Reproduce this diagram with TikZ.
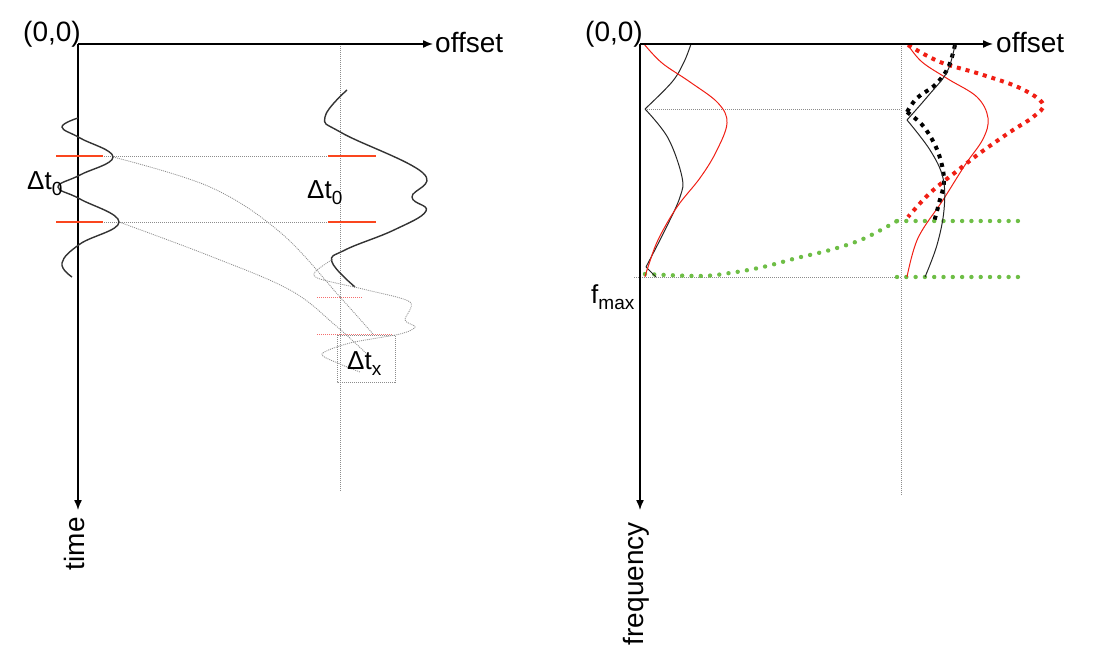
\documentclass[tikz,border=0pt]{standalone}
\usepackage{fontspec}
\setmainfont{Liberation Sans}
\usetikzlibrary{arrows.meta}
\definecolor{redL}{RGB}{250,70,30}
\definecolor{redR}{RGB}{240,30,20}
\definecolor{redlight}{RGB}{245,110,110}
\definecolor{grn}{RGB}{110,190,70}
\definecolor{guidegray}{RGB}{140,140,140}
\begin{document}
\begin{tikzpicture}[x=1pt,y=-1pt,
  axis/.style={line width=1.4pt,-{Latex[length=10pt,width=8pt]}},
  lbl/.style={inner sep=0pt,font=\fontsize{28}{30}\selectfont},
  dlbl/.style={inner sep=0pt,font=\fontsize{26}{28}\selectfont,anchor=base west},
  guide/.style={guidegray,line width=0.8pt,dash pattern=on 1pt off 1pt},
  wiggle/.style={black!80,line width=1.4pt},
  thin/.style={line width=1pt},
  thickdot/.style={line width=4pt,dash pattern=on 4pt off 5pt},
  greendot/.style={grn,line width=4.4pt,line cap=round,dash pattern=on 0pt off 9.3pt},
  reddot/.style={redlight,line width=0.9pt,dash pattern=on 1pt off 1pt}]
\useasboundingbox (0,0) rectangle (1100,660);

% ================= LEFT PANEL =================
\coordinate (OL) at (78,44);
\coordinate (OLx) at (433,44);
\coordinate (OLy) at (78,510);
\coordinate (VLt) at (340,44);
\coordinate (VLb) at (340,492);
\draw[guide] (VLt) -- (VLb);
\draw[axis] (OL) -- (OLx);
\draw[axis] (OL) -- (OLy);
\node[lbl,anchor=base east] (o1) at (81,42) {(0,0)};
\node[lbl,anchor=base west] (off1) at (435,53) {offset};
\node[lbl,rotate=90,anchor=base east] (time) at (84,517) {time};

% horizontal guides
\coordinate (hA1) at (80,156); \coordinate (hA2) at (340,156);
\coordinate (hB1) at (80,222); \coordinate (hB2) at (340,222);
\draw[guide] (hA1) -- (hA2);
\draw[guide] (hB1) -- (hB2);

% red markers
\coordinate (rA1) at (56,156); \coordinate (rA2) at (103,156);
\coordinate (rB1) at (56,222); \coordinate (rB2) at (103,222);
\coordinate (rC1) at (328,156); \coordinate (rC2) at (376,156);
\coordinate (rD1) at (328,222); \coordinate (rD2) at (376,222);
\draw[redL,line width=1.4pt] (rA1) -- (rA2);
\draw[redL,line width=1.4pt] (rB1) -- (rB2);
\draw[redL,line width=1.4pt] (rC1) -- (rC2);
\draw[redL,line width=1.4pt] (rD1) -- (rD2);

% moveout curves
\draw[guide] plot[smooth,tension=0.6] coordinates {(113,157) (210,187) (281,233) (340,297) (373,334)};
\draw[guide] plot[smooth,tension=0.6] coordinates {(119,222) (210,256) (290,290) (335,325) (368,355)};

% near trace
\draw[wiggle] plot[smooth,tension=0.7] coordinates {(78,118) (62,127) (80,138) (113,157) (80,175) (58,187) (80,199) (119,222) (80,244) (62,263) (72,277)};

% far trace
\draw[wiggle] plot[smooth,tension=0.7] coordinates {(347,90) (325,117) (342,133) (423,173) (412,197) (426,211) (394,230) (345,250) (332,262) (355,287)};

% shifted (moveout) trace
\draw[guide] plot[smooth,tension=0.5] coordinates {(333,259) (315,272) (320,279) (367,290) (410,302) (405,320) (415,327) (400,334) (350,343) (322,354) (340,364) (360,372)};

% red dotted markers
\coordinate (rE1) at (317,297); \coordinate (rE2) at (363,297);
\coordinate (rF1) at (317,334); \coordinate (rF2) at (392,334);
\draw[reddot] (rE1) -- (rE2);
\draw[reddot] (rF1) -- (rF2);

\node[dlbl] (dt0a) at (27,190) {Δt\raisebox{-6pt}{\fontsize{19}{19}\selectfont 0}};
\node[dlbl] (dt0b) at (307,199) {Δt\raisebox{-6pt}{\fontsize{19}{19}\selectfont 0}};
\node[dlbl] (dtx) at (347,369) {Δt\raisebox{-6pt}{\fontsize{19}{19}\selectfont x}};
\coordinate (bx1) at (337,335); \coordinate (bx2) at (395,382);
\draw[guide] (bx1) rectangle (bx2);

% ================= RIGHT PANEL =================
\coordinate (OR) at (640,44);
\coordinate (ORx) at (993,44);
\coordinate (ORy) at (640,510);
\coordinate (VRt) at (901,44);
\coordinate (VRb) at (901,495);
\draw[guide] (VRt) -- (VRb);
\coordinate (gA1) at (645,109); \coordinate (gA2) at (901,109);
\coordinate (gB1) at (634,277); \coordinate (gB2) at (901,277);
\draw[guide] (gA1) -- (gA2);
\draw[guide] (gB1) -- (gB2);

% green
\draw[greendot] plot[smooth,tension=0.6] coordinates {(645,274) (700,276) (730,273) (763,267) (797,258) (830,250) (863,239) (897,221)};
\coordinate (gr1) at (897,221); \coordinate (gr2) at (1020,221);
\coordinate (gr3) at (897,277); \coordinate (gr4) at (1020,277);
\draw[greendot] (gr1) -- (gr2);
\draw[greendot] (gr3) -- (gr4);

% near spectra
\draw[black!85,thin] plot[smooth,tension=0.6] coordinates {(691,44) (684,62) (672,82) (645,109)};
\draw[black!85,thin] plot[smooth,tension=0.6] coordinates {(645,109) (668,138) (682,177) (680,197) (666,228) (646,267)};
\draw[black!85,thin] (646,267) -- (656,277);
\draw[redR,thin] plot[smooth,tension=0.6] coordinates {(644,44) (662,63) (690,82) (718,103) (727,123) (716,152) (700,178) (677,207) (658,240) (648,267) (645,277)};

% far spectra
\draw[redR,thickdot] plot[smooth,tension=0.6] coordinates {(908,45) (940,62) (980,74) (1020,88) (1043,104) (1033,117) (1010,132) (980,153) (957,171) (930,193) (908,217)};
\draw[redR,thin] plot[smooth,tension=0.6] coordinates {(908,45) (922,62) (948,79) (977,97) (988,118) (983,139) (965,165) (943,200) (918,238) (907,277)};
\draw[black,thickdot] plot[smooth,tension=0.6] coordinates {(955,45) (948,68) (935,85) (917,98) (907,112)};
\draw[black,thickdot] plot[smooth,tension=0.6] coordinates {(907,112) (924,127) (938,152) (944,180) (939,203) (934,222)};
\draw[black!85,thin] plot[smooth,tension=0.6] coordinates {(955,45) (947,72) (928,96) (907,120)};
\draw[black!85,thin] plot[smooth,tension=0.6] coordinates {(907,120) (930,150) (943,178) (944,210) (937,245) (925,277)};

\draw[axis] (OR) -- (ORx);
\draw[axis] (OR) -- (ORy);
\node[lbl,anchor=base east] (o2) at (643,42) {(0,0)};
\node[lbl,anchor=base west] (off2) at (996,53) {offset};
\node[lbl,rotate=90,anchor=base east] (freq) at (643,522) {frequency};
\node[dlbl] (fmax) at (591,303) {f\raisebox{-6pt}{\fontsize{19}{19}\selectfont max}};
\end{tikzpicture}
\end{document}
